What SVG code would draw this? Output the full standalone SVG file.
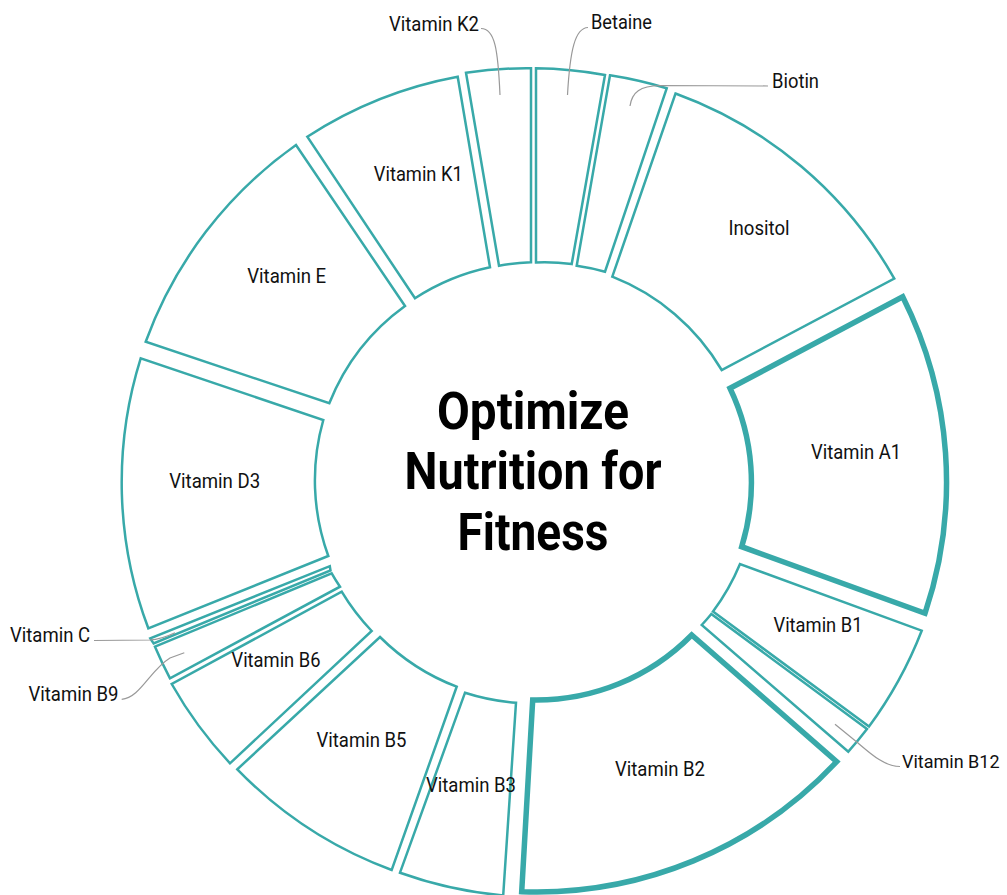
<svg xmlns="http://www.w3.org/2000/svg" width="1007" height="895" viewBox="0 0 1007 895">
<style>
.seg{fill:#fff;stroke:#38a9a9;stroke-width:2.5;stroke-linejoin:miter}
.hl{stroke-width:5.5}
.lbl{font-family:Roboto,"Liberation Sans",sans-serif;font-size:20px;fill:#111;text-anchor:middle}
.out{font-family:Roboto,"Liberation Sans",sans-serif;font-size:20px;fill:#111}
.title{font-family:Roboto,"Liberation Sans",sans-serif;font-size:51px;font-weight:bold;fill:#000;text-anchor:middle}
.lead{fill:none;stroke:#999;stroke-width:1.2}
</style>
<rect width="1007" height="895" fill="#fff"/>
<g id="betaine"><path class="seg" d="M536,68.3 A414,414 0 0 1 605,75 L571.7,264 A220.5,220.5 0 0 0 536,262.5 Z"/></g>
<g id="biotin"><path class="seg" d="M610,75.3 A414,414 0 0 1 666.7,88.3 L605,271.7 A220.5,220.5 0 0 0 576.7,265.7 Z"/></g>
<g id="inositol"><path class="seg" d="M675.5,93.5 A414,414 0 0 1 894.3,278.6 L721.7,370 A220.5,220.5 0 0 0 612.3,276.7 Z"/><text class="lbl" x="759" y="235" textLength="61" lengthAdjust="spacingAndGlyphs">Inositol</text></g>
<g id="vitamin-b1"><path class="seg" d="M921.7,630.7 A414,414 0 0 1 869,726.5 L713,611.5 A220.5,220.5 0 0 0 740,564 Z"/><text class="lbl" x="818" y="632" textLength="89" lengthAdjust="spacingAndGlyphs">Vitamin B1</text></g>
<g id="vitamin-b12"><path class="seg" d="M867,729 A414,414 0 0 1 848.3,751.7 L701.7,625 A220.5,220.5 0 0 0 711.3,614 Z"/></g>
<g id="vitamin-b3"><path class="seg" d="M503.2,895.4 A414,414 0 0 1 400,872.7 L465,692.7 A220.5,220.5 0 0 0 516,702.7 Z"/><text class="lbl" x="471" y="792" textLength="90" lengthAdjust="spacingAndGlyphs">Vitamin B3</text></g>
<g id="vitamin-b5"><path class="seg" d="M391.7,870 A414,414 0 0 1 237.3,769.3 L380,637 A220.5,220.5 0 0 0 456.7,686.7 Z"/><text class="lbl" x="361.5" y="747" textLength="90" lengthAdjust="spacingAndGlyphs">Vitamin B5</text></g>
<g id="vitamin-b6"><path class="seg" d="M230,763.3 A414,414 0 0 1 171.7,684 L341.7,591.7 A220.5,220.5 0 0 0 371.7,631 Z"/><text class="lbl" x="276" y="667" textLength="89" lengthAdjust="spacingAndGlyphs">Vitamin B6</text></g>
<g id="vitamin-b9"><path class="seg" d="M170,678.3 A414,414 0 0 1 155,646.7 L331.7,573.3 A220.5,220.5 0 0 0 340,586.7 Z"/></g>
<g id="vitamin-c"><path class="seg" d="M153.6,643.4 A414,414 0 0 1 150.3,638.3 L329.8,566.2 A220.5,220.5 0 0 0 330.5,570.4 Z"/></g>
<g id="vitamin-d3"><path class="seg" d="M148.3,628.3 A414,414 0 0 1 140.7,358.3 L323.3,420 A220.5,220.5 0 0 0 328.3,556 Z"/><text class="lbl" x="214.7" y="488" textLength="91" lengthAdjust="spacingAndGlyphs">Vitamin D3</text></g>
<g id="vitamin-e"><path class="seg" d="M145.7,341.7 A414,414 0 0 1 296,145 L405,306 A220.5,220.5 0 0 0 329.3,403.3 Z"/><text class="lbl" x="286.7" y="283" textLength="79" lengthAdjust="spacingAndGlyphs">Vitamin E</text></g>
<g id="vitamin-k1"><path class="seg" d="M307.3,136.7 A414,414 0 0 1 457.7,76.7 L490,267.3 A220.5,220.5 0 0 0 415,298.3 Z"/><text class="lbl" x="418.3" y="181" textLength="89" lengthAdjust="spacingAndGlyphs">Vitamin K1</text></g>
<g id="vitamin-k2"><path class="seg" d="M466,72.7 A414,414 0 0 1 531,68.3 L531,262.3 A220.5,220.5 0 0 0 499,265.7 Z"/></g>
<g id="vitamin-a1"><path class="seg hl" d="M902.7,296.7 A412.5,412.5 0 0 1 925,613.3 L741.7,546.7 A217.5,217.5 0 0 0 730,388.3 Z"/><text class="lbl" x="856" y="459" textLength="90" lengthAdjust="spacingAndGlyphs">Vitamin A1</text></g>
<g id="vitamin-b2"><path class="seg hl" d="M836.7,761.7 A411,411 0 0 1 521.7,891.7 L532.7,700 A218,218 0 0 0 691.7,635 Z"/><text class="lbl" x="660" y="776" textLength="90" lengthAdjust="spacingAndGlyphs">Vitamin B2</text></g>
<g id="connectors">
<path class="lead" d="M481,28.5 C495,28.5 498,50 500,95"/>
<path class="lead" d="M588,27.5 C575,28 570,50 567.5,95"/>
<path class="lead" d="M768,86 L660,85.5 C640,86 632,92 630,106"/>
<path class="lead" d="M94,640.5 L150,640 C160,639.5 168,636 175,632.7"/>
<path class="lead" d="M121.7,699.3 C140,698 150,670 170,658 L184.3,652.7"/>
<path class="lead" d="M835,724.3 L858,743 C872,755 885,766.5 900,766.5"/>
</g>
<g id="outer-labels">
<text class="out" x="479" y="31" text-anchor="end" textLength="90" lengthAdjust="spacingAndGlyphs">Vitamin K2</text>
<text class="out" x="591" y="29" textLength="61" lengthAdjust="spacingAndGlyphs">Betaine</text>
<text class="out" x="772" y="88" textLength="47" lengthAdjust="spacingAndGlyphs">Biotin</text>
<text class="out" x="90" y="642" text-anchor="end" textLength="80" lengthAdjust="spacingAndGlyphs">Vitamin C</text>
<text class="out" x="118.5" y="701" text-anchor="end" textLength="90" lengthAdjust="spacingAndGlyphs">Vitamin B9</text>
<text class="out" x="902" y="768" style="font-size:18px">Vitamin B12</text>
</g>
<g id="title">
<text class="title" x="533" y="429" textLength="192" lengthAdjust="spacingAndGlyphs">Optimize</text>
<text class="title" x="533" y="489" textLength="257" lengthAdjust="spacingAndGlyphs">Nutrition for</text>
<text class="title" x="533" y="550" textLength="151" lengthAdjust="spacingAndGlyphs">Fitness</text>
</g>
</svg>
